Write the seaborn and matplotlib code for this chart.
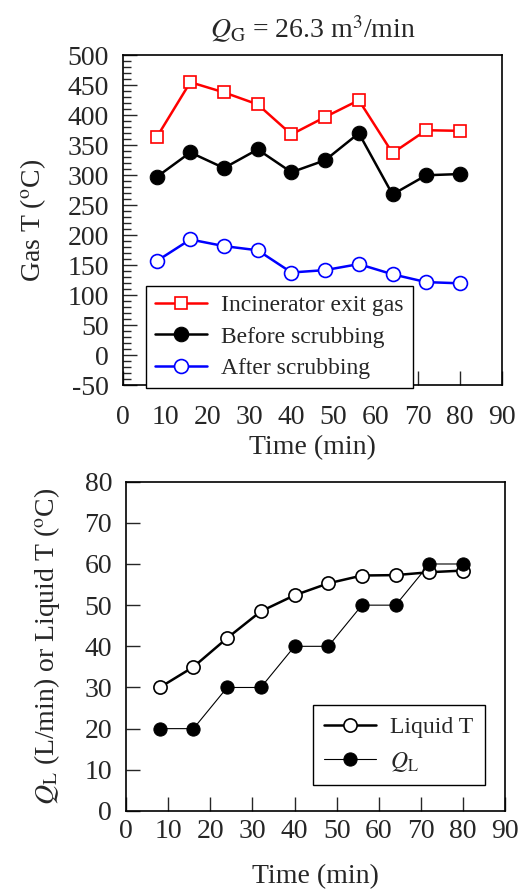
import numpy as np
import pandas as pd
import seaborn as sns
import matplotlib.pyplot as plt
from matplotlib.ticker import MultipleLocator

# data
time = [8, 16, 24, 32, 40, 48, 56, 64, 72, 80]
incinerator_exit = [363, 455, 438, 418, 368, 397, 425, 337, 375, 374]
before_scrub = [297, 338, 312, 343, 305, 325, 370, 268, 300, 302]
after_scrub = [157, 193, 182, 175, 138, 142, 152, 135, 122, 120]
liquid_t = [30, 35, 42, 48.5, 52.4, 55.3, 57.2, 57.3, 58, 58.4]
q_l = [20, 20, 30, 30, 40, 40, 50, 50, 60, 60]

sns.set_style("ticks")
plt.rcParams['font.family'] = ['Liberation Serif', 'DejaVu Serif']
plt.rcParams['mathtext.fontset'] = 'stix'
plt.rcParams['axes.unicode_minus'] = False

fig = plt.figure(figsize=(5.23, 8.9), dpi=100)
ax1 = fig.add_axes([0.235, 0.567, 0.725, 0.371])
ax2 = fig.add_axes([0.241, 0.0888, 0.725, 0.370])

# 上图：气体温度
sns.lineplot(x=time, y=incinerator_exit, ax=ax1, color='red', marker='s', markersize=8.5,
             markerfacecolor='white', markeredgecolor='red', markeredgewidth=1.2,
             linewidth=1.8, label='Incinerator exit gas')
sns.lineplot(x=time, y=before_scrub, ax=ax1, color='black', marker='o', markersize=10.5,
             markerfacecolor='black', markeredgecolor='black',
             linewidth=1.8, label='Before scrubbing')
sns.lineplot(x=time, y=after_scrub, ax=ax1, color='blue', marker='o', markersize=10,
             markerfacecolor='white', markeredgecolor='blue', markeredgewidth=1.2,
             linewidth=1.8, label='After scrubbing')

ax1.set_xlim(0, 90)
ax1.set_ylim(-50, 500)
ax1.xaxis.set_major_locator(MultipleLocator(10))
ax1.yaxis.set_major_locator(MultipleLocator(50))
ax1.yaxis.set_minor_locator(MultipleLocator(10))
ax1.tick_params(axis='both', which='major', direction='in', labelsize=20, length=10, width=1)
ax1.tick_params(axis='x', which='major', pad=14)
ax1.tick_params(axis='y', which='major', pad=10)
ax1.tick_params(axis='y', which='minor', direction='in', length=6, width=1)
ax1.tick_params(top=False, right=False)
ax1.set_xlabel('Time (min)', fontsize=20, labelpad=4)
ax1.set_ylabel('Gas T ($^\\mathrm{o}$C)', fontsize=20, labelpad=14)
ax1.set_title('$Q_\\mathrm{G}$ = 26.3 m$^3$/min', fontsize=20, pad=12)
leg1 = ax1.legend(loc='lower left', bbox_to_anchor=(0.061, -0.008), fontsize=17,
                  frameon=True, fancybox=False, edgecolor='black', framealpha=1,
                  handlelength=2.2, borderpad=0.38, labelspacing=0.42, handletextpad=0.6,
                  borderaxespad=0)
leg1.get_frame().set_linewidth(1)

# 下图：液体温度和液体流量
sns.lineplot(x=time, y=liquid_t, ax=ax2, color='black', marker='o', markersize=9.5,
             markerfacecolor='white', markeredgecolor='black', markeredgewidth=1.2,
             linewidth=1.8, label='Liquid T')
sns.lineplot(x=time, y=q_l, ax=ax2, color='black', marker='o', markersize=9.5,
             markerfacecolor='black', markeredgecolor='black',
             linewidth=0.8, label='$Q_\\mathrm{L}$')

ax2.set_xlim(0, 90)
ax2.set_ylim(0, 80)
ax2.xaxis.set_major_locator(MultipleLocator(10))
ax2.yaxis.set_major_locator(MultipleLocator(10))
ax2.tick_params(axis='both', which='major', direction='in', labelsize=20, length=10, width=1)
ax2.tick_params(axis='x', which='major', pad=6)
ax2.tick_params(axis='y', which='major', pad=10)
ax2.tick_params(top=False, right=False)
ax2.set_xlabel('Time (min)', fontsize=20, labelpad=14)
ax2.set_ylabel('$Q_\\mathrm{L}$ (L/min) or Liquid T ($^\\mathrm{o}$C)', fontsize=20, labelpad=16)
leg2 = ax2.legend(loc='lower left', bbox_to_anchor=(0.493, 0.079), fontsize=17,
                  frameon=True, fancybox=False, edgecolor='black', framealpha=1,
                  handlelength=2.2, borderpad=0.48, labelspacing=0.5, handletextpad=0.6,
                  borderaxespad=0)
leg2.get_frame().set_linewidth(1)

for ax in (ax1, ax2):
    for s in ax.spines.values():
        s.set_linewidth(1.2)
        s.set_color('black')

fig.savefig('out.png', dpi=100)
